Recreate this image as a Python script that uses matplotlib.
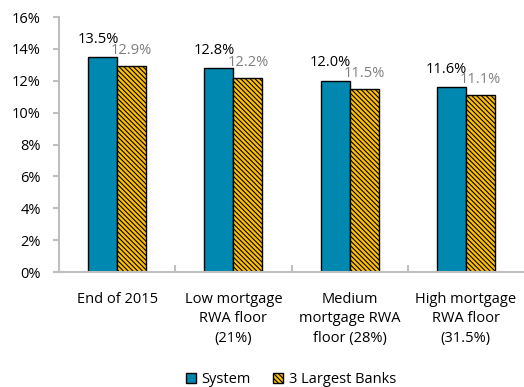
import matplotlib
matplotlib.use("Agg")
import matplotlib.pyplot as plt
import numpy as np

plt.rcParams['font.family'] = ['Open Sans', 'DejaVu Sans']
plt.rcParams['hatch.linewidth'] = 0.8

categories = ["End of 2015", "Low mortgage\nRWA floor\n(21%)",
              "Medium\nmortgage RWA\nfloor (28%)", "High mortgage\nRWA floor\n(31.5%)"]
system = [13.5, 12.8, 12.0, 11.6]
largest3 = [12.9, 12.2, 11.5, 11.1]
yticks = [0, 2, 4, 6, 8, 10, 12, 14, 16]

fig = plt.figure(figsize=(5.24, 3.87), dpi=100)
ax = fig.add_axes([0.1126, 0.297, 0.8874, 0.659])

x = np.arange(len(categories))
w = 0.25
ax.bar(x - w / 2, system, w, color="#0088B0", edgecolor="black", linewidth=1.0,
       label="System")
ax.bar(x + w / 2, largest3, w, color="#FFC000", edgecolor="black", linewidth=1.0,
       hatch="\\" * 7, label="3 Largest Banks")

for xi, v in zip(x, system):
    ax.text(xi - w / 2 - 0.04, v + 0.65, f"{v:.1f}%", ha="center", va="bottom",
            fontsize=10.5, color="black")
for xi, v in zip(x, largest3):
    ax.text(xi + w / 2, v + 0.5, f"{v:.1f}%", ha="center", va="bottom",
            fontsize=10.5, color="#7F7F7F")

ax.set_xlim(-0.5, len(categories) - 0.5)
ax.set_ylim(0, 16)
ax.set_yticks(yticks)
ax.set_yticklabels([f"{t}%" for t in yticks], fontsize=10.5)
ax.set_xticks(x)
ax.set_xticklabels(categories, fontsize=10.5, linespacing=1.45)
ax.tick_params(axis="x", length=0, pad=14)
ax.set_xticks(np.arange(0.5, len(categories) - 1, 1.0), minor=True)
ax.tick_params(axis="x", which="minor", direction="in", length=5, color="#BFBFBF", width=1.5)
ax.tick_params(axis="y", direction="out", length=4, color="#BFBFBF", width=1.5, pad=9)

for s in ["top", "right"]:
    ax.spines[s].set_visible(False)
for s in ["left", "bottom"]:
    ax.spines[s].set_color("#BFBFBF")
    ax.spines[s].set_linewidth(1.5)

fig.legend(loc="lower center", bbox_to_anchor=(0.555, -0.035), ncol=2, frameon=False,
           fontsize=10.5, handlelength=0.7, handleheight=0.7, columnspacing=1.5,
           handletextpad=0.4)

fig.savefig("out.png", dpi=100)
